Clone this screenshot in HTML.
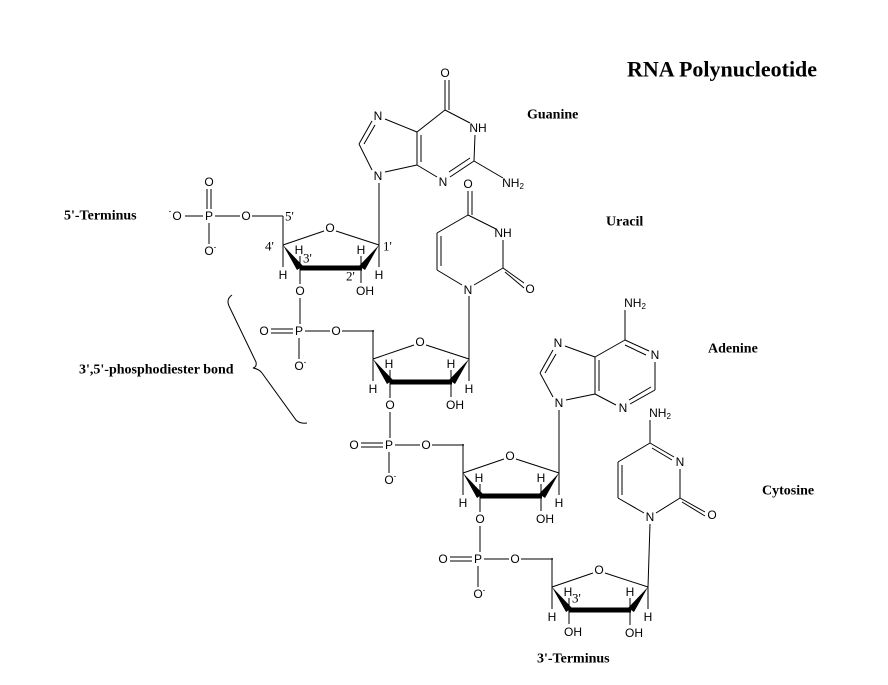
<!DOCTYPE html>
<html><head><meta charset="utf-8"><style>
html,body{margin:0;padding:0;background:#fff;}
svg{display:block;}
.t{font-family:"Liberation Sans",sans-serif;font-size:12px;fill:#000;text-anchor:middle;dominant-baseline:central;}
.s{font-family:"Liberation Serif",serif;font-size:13px;fill:#000;dominant-baseline:central;}
.b{font-family:"Liberation Serif",serif;font-weight:bold;font-size:14px;fill:#000;dominant-baseline:central;}
line,polyline,path{stroke:#000;stroke-width:1;fill:none;}
</style></head><body>
<svg width="888" height="685" viewBox="0 0 888 685" xmlns="http://www.w3.org/2000/svg">
<defs>
<g id="sugar">
  <line x1="0" y1="0" x2="0" y2="-29"/>
  <line x1="0" y1="0" x2="41" y2="-14"/>
  <line x1="53" y1="-14" x2="96" y2="0"/>
  <text class="t" x="47" y="-17">O</text>
  <polygon points="0,0 14,25 20,21" fill="#000"/>
  <polygon points="96,0 76,21 82,25" fill="#000"/>
  <line x1="17" y1="23" x2="79" y2="23" style="stroke-width:5"/>
  <line x1="0" y1="0" x2="0" y2="22"/>
  <text class="t" x="0" y="30">H</text>
  <line x1="96" y1="0" x2="96" y2="22"/>
  <text class="t" x="96" y="30">H</text>
  <line x1="17" y1="23" x2="17" y2="11"/>
  <text class="t" x="16" y="5">H</text>
  <line x1="78" y1="23" x2="78" y2="11"/>
  <text class="t" x="78" y="5">H</text>
  <line x1="78" y1="23" x2="78" y2="38"/>
  <text class="t" x="82" y="46">OH</text>
</g>
<g id="phos">
  <text class="t" x="0" y="0">P</text>
  <line x1="-28" y1="-2" x2="-6" y2="-2"/>
  <line x1="-28" y1="2" x2="-6" y2="2"/>
  <text class="t" x="-35" y="0">O</text>
  <line x1="0" y1="7" x2="0" y2="28"/>
  <text class="t" x="0" y="35">O</text>
  <text class="t" x="6" y="31" style="font-size:8px">-</text>
  <line x1="6" y1="0" x2="31" y2="0"/>
  <text class="t" x="37" y="0">O</text>
  <line x1="43" y1="0" x2="75" y2="0"/>
</g>
</defs>

<text class="b" x="627" y="69" style="font-size:22px">RNA Polynucleotide</text>
<text class="b" x="527" y="115">Guanine</text>
<text class="b" x="606" y="222">Uracil</text>
<text class="b" x="708" y="349">Adenine</text>
<text class="b" x="762" y="491">Cytosine</text>
<text class="b" x="64" y="216">5'-Terminus</text>
<text class="b" x="79" y="370">3',5'-phosphodiester bond</text>
<text class="b" x="537" y="659">3'-Terminus</text>

<!-- brace -->
<path d="M232,295 Q226,299 229,306 L256,362 Q257,367 253,368 Q259,369 262,373 L296,420 Q300,424 307,423"/>

<!-- 5' phosphate -->
<text class="t" x="209" y="216">P</text>
<line x1="207" y1="189" x2="207" y2="209"/><line x1="211" y1="189" x2="211" y2="209"/>
<text class="t" x="209" y="182">O</text>
<line x1="209" y1="223" x2="209" y2="244"/>
<text class="t" x="209" y="251">O</text><text class="t" x="215" y="247" style="font-size:8px">-</text>
<line x1="185" y1="216" x2="203" y2="216"/>
<text class="t" x="177" y="216">O</text><text class="t" x="170" y="211" style="font-size:8px">-</text>
<line x1="215" y1="216" x2="240" y2="216"/>
<text class="t" x="246" y="216">O</text>
<line x1="252" y1="216" x2="283" y2="216"/>
<text class="s" x="285" y="216">5'</text>
<text class="s" x="265" y="246">4'</text>
<text class="s" x="303" y="258">3'</text>
<text class="s" x="383" y="246">1'</text>
<text class="s" x="346" y="276">2'</text>

<!-- sugars -->
<use href="#sugar" x="283" y="245"/>
<use href="#sugar" x="373" y="359"/>
<use href="#sugar" x="463" y="473"/>
<use href="#sugar" x="552" y="587"/>
<text class="s" x="572" y="598">3'</text>

<!-- 3'-O links and phosphates -->
<g>
<line x1="300" y1="268" x2="300" y2="284"/><text class="t" x="300" y="291">O</text>
<line x1="300" y1="298" x2="300" y2="324"/>
<use href="#phos" x="299" y="331"/>
<line x1="390" y1="382" x2="390" y2="398"/><text class="t" x="390" y="405">O</text>
<line x1="390" y1="412" x2="390" y2="438"/>
<use href="#phos" x="389" y="445"/>
<line x1="480" y1="496" x2="480" y2="512"/><text class="t" x="480" y="519">O</text>
<line x1="480" y1="526" x2="480" y2="552"/>
<use href="#phos" x="478" y="559"/>
<line x1="569" y1="610" x2="569" y2="624"/><text class="t" x="573" y="632">OH</text>
</g>

<!-- glycosidic bonds -->
<line x1="379" y1="245" x2="379" y2="183"/>
<line x1="469" y1="359" x2="469" y2="296"/>
<line x1="559" y1="473" x2="559" y2="410"/>
<line x1="648" y1="587" x2="650" y2="524"/>

<!-- Guanine -->
<text class="t" x="378" y="176">N</text>
<text class="t" x="378" y="116">N</text>
<text class="t" x="478" y="128">NH</text>
<text class="t" x="443" y="182">N</text>
<text class="t" x="445" y="73">O</text>
<text class="t" x="513" y="183">NH<tspan dy="3" style="font-size:8px">2</tspan></text>
<line x1="372" y1="170" x2="359" y2="144"/>
<line x1="359" y1="144" x2="372" y2="121"/><line x1="364" y1="144" x2="375" y2="125"/>
<line x1="385" y1="119" x2="417" y2="132"/>
<line x1="385" y1="172" x2="417" y2="165"/>
<line x1="417" y1="132" x2="417" y2="165"/><line x1="421" y1="135" x2="421" y2="162"/>
<line x1="417" y1="132" x2="445" y2="110"/>
<line x1="445" y1="110" x2="445" y2="80"/><line x1="449" y1="110" x2="449" y2="80"/>
<line x1="445" y1="110" x2="470" y2="123"/>
<line x1="475" y1="135" x2="474" y2="161"/>
<line x1="474" y1="161" x2="450" y2="177"/><line x1="470" y1="158" x2="449" y2="172"/>
<line x1="437" y1="177" x2="417" y2="165"/>
<line x1="474" y1="161" x2="503" y2="178"/>

<!-- Uracil -->
<text class="t" x="468" y="290">N</text>
<text class="t" x="503" y="233">NH</text>
<text class="t" x="468" y="184">O</text>
<text class="t" x="530" y="289">O</text>
<line x1="462" y1="285" x2="437" y2="270"/>
<line x1="437" y1="270" x2="437" y2="233"/><line x1="441" y1="266" x2="441" y2="236"/>
<line x1="437" y1="233" x2="468" y2="215"/>
<line x1="468" y1="215" x2="468" y2="191"/><line x1="472" y1="215" x2="472" y2="191"/>
<line x1="468" y1="215" x2="496" y2="229"/>
<line x1="503" y1="240" x2="503" y2="268"/>
<line x1="503" y1="268" x2="474" y2="285"/>
<line x1="503" y1="268" x2="524" y2="283"/><line x1="505" y1="272" x2="524" y2="288"/>

<!-- Adenine -->
<text class="t" x="559" y="403">N</text>
<text class="t" x="558" y="343">N</text>
<text class="t" x="655" y="355">N</text>
<text class="t" x="623" y="408">N</text>
<text class="t" x="635" y="303">NH<tspan dy="3" style="font-size:8px">2</tspan></text>
<line x1="553" y1="397" x2="540" y2="373"/>
<line x1="540" y1="373" x2="553" y2="350"/><line x1="545" y1="373" x2="556" y2="354"/>
<line x1="565" y1="346" x2="595" y2="357"/>
<line x1="566" y1="400" x2="595" y2="394"/>
<line x1="595" y1="357" x2="595" y2="394"/><line x1="599" y1="360" x2="599" y2="391"/>
<line x1="595" y1="357" x2="625" y2="340"/>
<line x1="625" y1="340" x2="625" y2="310"/>
<line x1="625" y1="340" x2="649" y2="351"/><line x1="625" y1="345" x2="646" y2="355"/>
<line x1="655" y1="362" x2="655" y2="390"/>
<line x1="655" y1="390" x2="630" y2="404"/><line x1="651" y1="387" x2="629" y2="400"/>
<line x1="616" y1="405" x2="595" y2="394"/>

<!-- Cytosine -->
<text class="t" x="650" y="517">N</text>
<text class="t" x="680" y="462">N</text>
<text class="t" x="712" y="515">O</text>
<text class="t" x="660" y="413">NH<tspan dy="3" style="font-size:8px">2</tspan></text>
<line x1="650" y1="443" x2="650" y2="420"/>
<line x1="650" y1="443" x2="618" y2="462"/>
<line x1="618" y1="462" x2="618" y2="498"/><line x1="622" y1="465" x2="622" y2="495"/>
<line x1="618" y1="498" x2="644" y2="513"/>
<line x1="656" y1="513" x2="680" y2="498"/>
<line x1="680" y1="498" x2="680" y2="469"/>
<line x1="650" y1="443" x2="674" y2="457"/><line x1="652" y1="448" x2="672" y2="460"/>
<line x1="680" y1="498" x2="705" y2="512"/><line x1="682" y1="502" x2="705" y2="516"/>
</svg>
</body></html>
